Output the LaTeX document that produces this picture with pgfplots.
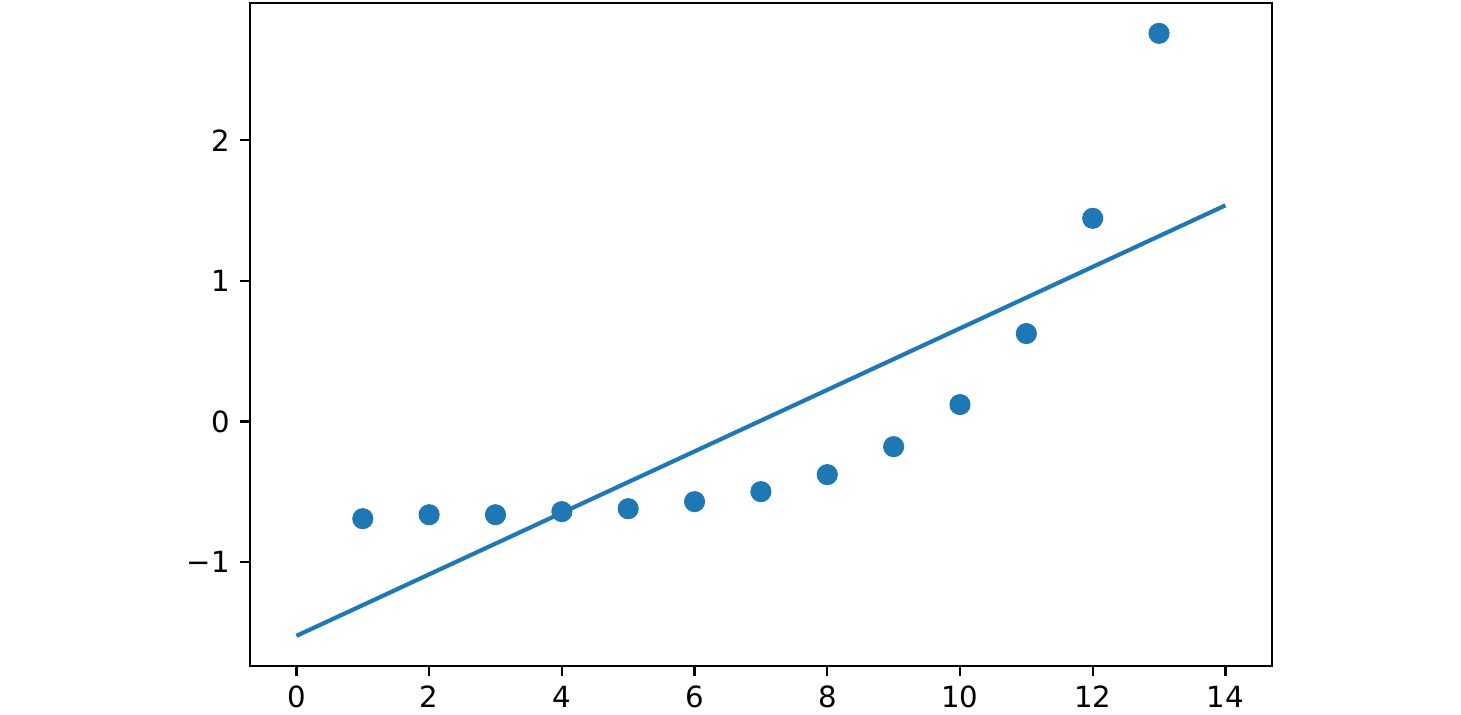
\documentclass[border=0pt]{standalone}
\usepackage{pgfplots}
\pgfplotsset{compat=1.18}
\usepackage{fontspec}
\setmainfont{DejaVu Sans}
\definecolor{c0}{HTML}{1F77B4}
\begin{document}
\fontsize{10.5}{12}\selectfont
\begin{tikzpicture}
\useasboundingbox (-90pt,-17.64pt) rectangle (436pt,239.76pt);
\begin{axis}[
  at={(0,0)}, anchor=south west,
  scale only axis, width=367.9pt, height=238.7pt,
  xmin=-0.7, xmax=14.7, ymin=-1.737, ymax=2.976,
  xtick={0,2,4,6,8,10,12,14},
  xticklabels={0,2,4,6,8,10,12,14},
  ytick={-1,0,1,2},
  yticklabels={−1,0,1,2},
  tick align=outside, tick pos=left,
  major tick length=3.5pt,
  every tick/.style={black, line width=0.8pt},
  axis line style={line width=0.8pt},
  ticklabel style={font=\fontsize{10.5}{12}\selectfont},
  /pgf/number format/assume math mode=true,
]
\addplot[c0, line width=1.5pt] coordinates {(0,-1.523) (14,1.537)};
\addplot[only marks, mark=*, mark size=3.6pt, c0, mark options={draw=c0, fill=c0}] coordinates {
(1,-0.690) (2,-0.662) (3,-0.662) (4,-0.640) (5,-0.619) (6,-0.569) (7,-0.498)
(8,-0.377) (9,-0.178) (10,0.121) (11,0.626) (12,1.445) (13,2.760)
};
\end{axis}
\end{tikzpicture}
\end{document}
